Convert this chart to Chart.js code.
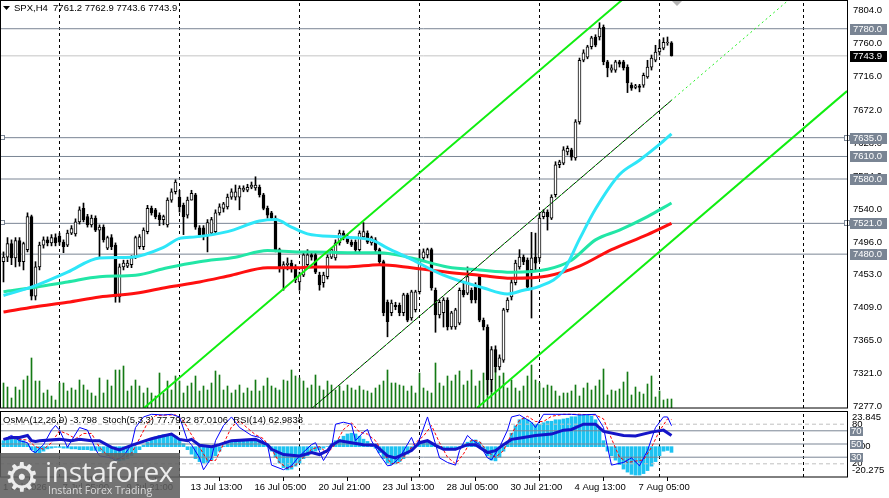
<!DOCTYPE html>
<html>
<head>
<meta charset="utf-8">
<script src="https://cdn.jsdelivr.net/npm/chart.js@4.4.1/dist/chart.umd.min.js"></script>
<style>
  html, body { margin: 0; padding: 0; background: #fff; overflow: hidden; }
  #wrap { position: relative; width: 889px; height: 498px; }
  #mainBox { position: absolute; left: 0; top: 0; width: 889px; height: 410px; }
  #oscBox { position: absolute; left: 0; top: 410px; width: 889px; height: 88px; }
  #logo { position: absolute; left: 0; top: 453px; width: 180px; height: 45px;
          background: rgba(96, 96, 96, 0.88); overflow: hidden; }
  #logo span { position: absolute; white-space: nowrap; line-height: 1; color: #ececec; }
  #logo .gear { left: 4px; top: 1px; font: 40px "DejaVu Sans"; }
  #logo .name { left: 45px; top: -1px; font: 400 28px "Open Sans"; letter-spacing: -0.3px; }
  #logo .tag { left: 48px; top: 30px; font: 10.5px "Open Sans"; color: #dcdcdc; }
</style>
</head>
<body>
<div id="wrap">
  <div id="mainBox"><canvas id="mainChart" width="889" height="410"></canvas></div>
  <div id="oscBox"><canvas id="oscChart" width="889" height="88"></canvas></div>
  <div id="logo"><span class="gear">⚙</span><span class="name">instaforex</span><span class="tag">Instant Forex Trading</span></div>
</div>
<script>
// SPX H4 bars, index 0 = first bar on screen
const opens = [
  7470,7476,7494,7475,7498,7470,7486,7530,7424,7463,
  7492,7499,7495,7502,7504,7496,7492,7508,7507,7523,
  7541,7530,7519,7528,7512,7516,7488,7502,7492,7423,
  7463,7464,7466,7476,7490,7490,7510,7541,7539,7532,
  7526,7519,7552,7563,7556,7545,7532,7552,7559,7515,
  7515,7506,7508,7510,7535,7541,7543,7556,7556,7556,
  7565,7565,7569,7568,7569,7559,7541,7535,7528,7486,
  7462,7466,7468,7463,7443,7452,7466,7479,7479,7452,
  7442,7450,7476,7475,7495,7508,7503,7496,7496,7486,
  7503,7508,7495,7499,7486,7470,7416,7402,7412,7412,
  7402,7426,7395,7406,7430,7475,7479,7486,7432,7399,
  7402,7419,7383,7383,7388,7432,7428,7432,7436,7450,
  7392,7383,7313,7353,7330,7339,7406,7423,7442,7463,
  7476,7472,7459,7476,7475,7530,7536,7528,7559,7599,
  7601,7616,7619,7608,7656,7738,7742,7756,7769,7769,
  7782,7736,7725,7725,7736,7736,7729,7705,7702,7704,
  7705,7716,7729,7738,7749,7754,7761,7761.2
];
const highs = [
  7483,7502,7499,7502,7502,7496,7535,7532,7470,7496,
  7503,7503,7506,7507,7508,7499,7512,7518,7527,7543,
  7548,7533,7532,7531,7519,7519,7504,7506,7495,7467,
  7472,7472,7478,7504,7506,7515,7545,7544,7541,7535,
  7532,7555,7567,7579,7565,7548,7556,7565,7561,7518,
  7518,7526,7529,7539,7547,7549,7560,7567,7572,7571,
  7571,7573,7576,7583,7572,7561,7544,7537,7531,7488,
  7470,7475,7472,7466,7456,7483,7486,7482,7482,7456,
  7456,7479,7488,7499,7512,7511,7506,7499,7499,7511,
  7522,7511,7504,7502,7488,7472,7419,7419,7416,7415,
  7428,7428,7432,7432,7486,7487,7488,7488,7435,7419,
  7422,7422,7404,7408,7435,7442,7463,7435,7442,7452,
  7395,7386,7357,7358,7346,7408,7422,7446,7472,7486,
  7479,7475,7509,7508,7535,7539,7539,7559,7603,7605,
  7623,7624,7621,7659,7741,7752,7758,7770,7772,7788,
  7785,7738,7732,7738,7738,7738,7732,7708,7706,7706,
  7721,7738,7745,7758,7765,7768,7769,7762.9
];
const lows = [
  7443,7470,7466,7463,7464,7459,7483,7419,7419,7459,
  7488,7491,7491,7491,7492,7482,7490,7506,7504,7520,
  7523,7516,7516,7510,7476,7496,7486,7486,7416,7416,
  7459,7462,7462,7474,7487,7486,7507,7532,7527,7518,
  7519,7516,7549,7560,7536,7506,7528,7552,7513,7503,
  7499,7483,7506,7507,7532,7536,7540,7553,7552,7539,
  7563,7563,7567,7565,7556,7539,7528,7526,7483,7456,
  7432,7459,7456,7442,7432,7450,7463,7472,7454,7432,
  7436,7447,7474,7472,7492,7499,7494,7490,7483,7483,
  7500,7494,7492,7483,7467,7398,7370,7398,7406,7398,
  7398,7390,7392,7403,7427,7472,7475,7432,7376,7395,
  7383,7379,7380,7380,7386,7423,7426,7415,7415,7390,
  7379,7293,7297,7323,7326,7336,7403,7419,7439,7460,
  7466,7432,7395,7459,7470,7527,7512,7526,7556,7595,
  7599,7612,7605,7605,7653,7736,7740,7753,7756,7765,
  7732,7716,7722,7722,7729,7725,7695,7698,7700,7696,
  7702,7714,7725,7736,7745,7752,7758,7743.6
];
const closes = [
  7476,7494,7475,7498,7470,7494,7530,7424,7463,7492,
  7499,7495,7502,7495,7496,7490,7508,7514,7523,7539,
  7526,7519,7528,7512,7516,7499,7502,7490,7423,7463,
  7468,7468,7475,7502,7503,7512,7541,7535,7530,7526,
  7530,7552,7563,7576,7543,7530,7552,7561,7516,7506,
  7504,7522,7526,7535,7543,7547,7556,7563,7563,7568,
  7568,7569,7572,7572,7559,7541,7532,7528,7486,7462,
  7466,7468,7462,7446,7452,7479,7479,7476,7456,7439,
  7452,7476,7486,7495,7508,7502,7496,7492,7486,7508,
  7510,7496,7502,7486,7470,7402,7390,7415,7410,7402,
  7426,7392,7430,7430,7472,7483,7486,7435,7399,7416,
  7419,7383,7402,7406,7432,7426,7450,7419,7419,7392,
  7383,7313,7353,7330,7342,7406,7419,7442,7468,7476,
  7470,7436,7475,7468,7528,7536,7530,7556,7599,7603,
  7619,7621,7609,7656,7738,7748,7756,7768,7758,7781,
  7736,7728,7728,7736,7733,7728,7708,7701,7704,7702,
  7718,7729,7741,7749,7754,7762,7761,7743.9
];
// tick volume, drawn on its own hidden scale at the foot of the price panel
const volumes = [
  25,21,10,21,18,28,32,50,27,27,15,18,12,8,25,25,17,20,18,28,
  23,18,15,12,30,15,28,22,38,38,42,17,22,28,22,15,20,15,12,35,
  15,27,18,32,27,15,22,25,32,17,22,18,25,37,33,18,22,15,18,23,
  15,20,17,28,17,22,30,22,20,18,
  28,27,38,32,30,27,20,23,33,22,18,27,23,18,22,17,23,20,18,22,
  18,17,15,20,23,27,38,25,25,23,22,17,22,15,35,20,17,15,45,25,
  22,32,27,33,37,23,27,38,22,27,35,45,45,40,32,35,20,28,20,17,
  22,32,43,28,25,20,23,22,17,12,15,15,17,23,12,
  20,25,18,22,28,
  39,13,18,17,19,26,36,13,21,16,14,24,32,11,17,8,9,9
];

// moving averages at sample bars
const fastMaBars = [0,8,16,24,32,40,44,48,56,64,68,72,76,84,92,96,102,110,120,126,130,134,140,144,148,154,159,164,167];
const fastMaVals = [7425,7438,7456,7475,7476,7489,7501,7503,7510,7524,7526,7516,7507,7503,7499,7488,7473,7452,7435,7427,7432,7437,7458,7500,7540,7586,7605,7626,7640];
const midMaBars = [0,8,16,24,33,41,49,58,66,74,78,86,94,102,111,119,127,136,142,148,154,161,167];
const midMaVals = [7430,7436,7443,7450,7452,7462,7470,7476,7485,7483,7483,7482,7482,7475,7463,7459,7456,7460,7472,7499,7512,7530,7548];
const slowMaBars = [0,8,16,24,33,41,49,57,66,74,78,86,94,102,111,119,127,136,144,152,161,167];
const slowMaVals = [7403,7410,7416,7423,7428,7436,7443,7452,7462,7462,7463,7463,7466,7462,7456,7452,7448,7451,7464,7486,7506,7521];

// drawn channel (two ends of each line)
const chanUpBars = [35.125, 154.625];
const chanUpVals = [7275.3, 7818.2];
const chanLowBars = [118.375, 210.875];
const chanLowVals = [7275.3, 7697];
const chanMidBars = [76.625, 167.125];
const chanMidVals = [7272.6, 7685.3];
const chanMidExtBars = [76.625, 195.875];
const chanMidExtVals = [7272.6, 7816.4];

const levels = [7780, 7635, 7610, 7580, 7521, 7480];
const markedLevels = [7635, 7521];
const priceTicks = [7804,7760,7716,7672,7628,7584,7540,7496,7453,7409,7365,7321,7277];
const sepBars = [14, 44, 74, 104, 134, 164, 200];

// oscillators
const osma = [
  4,5,5.5,6,5,4,2,
  -2,-4,-4,-3,
  -1.5,-1,-0.5,-0.5,-1,-1,-1.5,-1.5,-2,-2,-2,-2.5,-2.5,-3,
  -4,-6,-8,-9,-9.5,-9,-8,-6,-4,-2,
  1,3,5,6.5,7.5,8,8,7.5,7,5,2,
  -2,-5,-8,-10,-11,-10.5,-9,-6,-3,
  0.5,2,3,3.5,4,4,4,4.5,4.5,4,3,1,
  -3,-7,-11,-14,-15.5,-15,-13,-11,-8,
  -6,-4,-3,-2,-1,0,2,
  4,5,7,8.5,9,8.5,7,5,3.5,2,
  -1,-4,-8,-11,-12,-11.5,-10,-8,-5,-2,
  0.5,2,3,3,2,0.5,
  -1,-1.5,-2,-1.5,-1,0,1.5,3,
  4,4.5,3,
  -2,-6,-9,-9.5,-7,-3,
  3,9,14,18,19,18,16,15,
  15,16,17,17,18,18,18.5,19,20,20,21,21,21,20.5,18,12,4,
  -3,-6,-9,-12,-15,-17,-18.5,-19,-19,-18,-16,-13,-10,-6,-3,-2.5,-3.798
];
const osmaRange = [-20.275, 23.845];
const stochBars = [0,2,4,6,7,8,10,12,13,14,16,17,19,21,23,24,27,28,30,32,33,35,37,40,42,44,46,47,49,50,52,53,55,57,59,62,64,66,67,70,72,74,77,78,80,82,83,85,87,88,90,91,92,94,96,97,99,102,103,104,106,107,109,111,113,114,116,117,119,121,122,124,126,127,129,132,133,135,138,142,144,148,150,151,152,155,157,159,161,163,165,166,167];
const stochVals = [57,63,55,52,40,37,49,71,78,71,45,55,75,71,42,32,29,25,32,49,75,91,95,94,95,91,55,49,29,11,29,55,78,91,75,63,60,48,18,11,17,32,49,52,25,45,80,83,80,55,68,72,55,34,17,18,29,60,45,57,91,71,29,22,18,40,63,57,49,29,26,45,71,91,94,83,75,95,95,95,94,95,75,45,18,22,29,17,40,75,91,91,77.7922];
const signalBars = [0,3,6,8,10,12,14,16,18,20,22,24,26,28,30,32,34,36,38,41,43,45,47,49,51,53,55,57,59,61,63,65,67,69,71,73,75,77,79,81,83,85,87,89,91,93,95,97,99,101,103,105,107,109,111,113,115,117,119,121,123,125,127,129,131,133,135,137,140,144,148,150,152,154,156,158,160,162,164,166,167];
const signalVals = [58,58,56,46,42,52,70,65,58,66,66,45,33,28,28,36,58,82,93,94,94,85,64,45,25,25,50,76,85,74,64,58,42,22,13,18,30,42,46,36,50,72,82,68,65,55,36,20,22,38,52,62,78,52,30,20,35,56,54,38,30,40,65,86,92,84,84,92,95,95,94,88,58,30,22,24,26,45,70,88,87.0106];
const rsiBars = [0,2,4,6,7,8,9,14,17,19,22,24,27,29,32,34,37,39,42,44,46,47,49,52,54,57,63,66,67,70,74,77,79,81,82,84,87,90,93,96,98,102,104,106,108,110,113,116,118,121,123,125,127,130,133,137,140,142,145,148,150,155,158,162,165,167];
const rsiVals = [57,60,60,63,55,54,55,57,55,57,55,55,45,41,48,52,58,61,65,57,55,57,48,46,49,55,57,49,42,34,32,37,34,40,48,55,52,49,48,32,29,40,52,55,48,42,42,49,49,37,40,49,57,60,63,65,71,72,80,80,69,63,62,68,71,62.9838];
const oscSolidLevels = [70, 50, 30];
const oscDashLevels = [80, 20];

const timeTickBars = [-0.875, 14, 30, 46, 62, 78, 94, 110, 126, 142, 158];
const timeLabels = ['1 Jul 2026','7 Jul 05:00','9 Jul 21:00','13 Jul 13:00','16 Jul 05:00','20 Jul 21:00',
                    '23 Jul 13:00','28 Jul 05:00','30 Jul 21:00','4 Aug 13:00','7 Aug 05:00'];

const X_MIN = -0.875, X_MAX = 210.875;   // 4 px per bar
const Y_MIN = 7275.25, Y_MAX = 7818.24;
const FONT = '9.5px "Liberation Sans"';
const LEVEL_GREY = '#7a8594';

const pts = (xs, ys) => xs.map((x, k) => ({ x: x, y: ys[k] }));
const lineSet = (data, color, width, extra) => Object.assign({
  type: 'line', data: data, borderColor: color, borderWidth: width,
  pointRadius: 0, fill: false, tension: 0
}, extra || {});
// keep axes from insetting the plot area for their end labels
const noPad = s => { s.paddingTop = 0; s.paddingBottom = 0; s.paddingLeft = 0; s.paddingRight = 0; };

const barIdx = closes.map((_, i) => i);

// ---------- price panel ----------
const mainSets = [];
mainSets.push(lineSet(pts(chanUpBars, chanUpVals), '#10ee10', 2, { order: 0 }));
mainSets.push(lineSet(pts(chanLowBars, chanLowVals), '#10ee10', 2, { order: 0 }));
mainSets.push(lineSet(pts(chanMidExtBars, chanMidExtVals), '#22ee22', 1, { order: 0, borderDash: [2, 3] }));
mainSets.push(lineSet(pts(chanMidBars, chanMidVals), '#000000', 1, { order: 1 }));
mainSets.push(lineSet(pts(fastMaBars, fastMaVals), '#2ee6f8', 3, { order: 2, tension: 0.4, cubicInterpolationMode: 'monotone' }));
mainSets.push(lineSet(pts(midMaBars, midMaVals), '#22e6a6', 3, { order: 2, tension: 0.4, cubicInterpolationMode: 'monotone' }));
mainSets.push(lineSet(pts(slowMaBars, slowMaVals), '#ff1010', 3, { order: 2, tension: 0.4, cubicInterpolationMode: 'monotone' }));
mainSets.push({
  type: 'bar', order: 3, grouped: false, barThickness: 3, minBarLength: 1,
  data: barIdx.map(i => ({ x: i, y: [opens[i], closes[i]] })),
  backgroundColor: barIdx.map(i => closes[i] >= opens[i] ? '#ffffff' : '#000000'),
  borderColor: '#000000', borderWidth: 1, borderSkipped: false
});
mainSets.push({
  type: 'bar', order: 4, grouped: false, barThickness: 1,
  data: barIdx.map(i => ({ x: i, y: [lows[i], highs[i]] })),
  backgroundColor: '#000000', borderWidth: 0
});
mainSets.push({
  type: 'bar', order: 5, grouped: false, barThickness: 1, yAxisID: 'yv',
  data: barIdx.map(i => ({ x: i, y: volumes[i] })),
  backgroundColor: '#147a14', borderWidth: 0
});
levels.forEach(v => mainSets.push(lineSet([{ x: X_MIN, y: v }, { x: X_MAX, y: v }], LEVEL_GREY, 1, { order: 6 })));
mainSets.push(lineSet([{ x: X_MIN, y: closes[closes.length - 1] }, { x: X_MAX, y: closes[closes.length - 1] }], '#c4c4c4', 1, { order: 6 }));
sepBars.forEach(b => mainSets.push(lineSet([{ x: b, y: Y_MIN }, { x: b, y: Y_MAX }], '#000000', 1, { order: 7, borderDash: [3, 3] })));

const mainDeco = {
  id: 'mainDeco',
  afterDraw(chart) {
    const { ctx, chartArea: a } = chart;
    const ys = chart.scales.y;
    const last = closes.length - 1;
    ctx.save();
    ctx.font = FONT;
    ctx.textBaseline = 'middle';
    // symbol line
    ctx.fillStyle = '#000';
    ctx.beginPath(); ctx.moveTo(3, 6); ctx.lineTo(10, 6); ctx.lineTo(6.5, 10); ctx.closePath(); ctx.fill();
    const title = 'SPX,H4  ' + [opens[last], highs[last], lows[last], closes[last]].map(v => v.toFixed(1)).join(' ');
    ctx.fillText(title, 14, 8.5);
    // shift marker
    ctx.fillStyle = '#b4b4b4';
    ctx.beginPath(); ctx.moveTo(671, 0); ctx.lineTo(683, 0); ctx.lineTo(677, 6); ctx.closePath(); ctx.fill();
    // level tags on the price scale
    const tag = (v, txt, fill) => {
      const y = ys.getPixelForValue(v);
      ctx.fillStyle = fill;
      ctx.fillRect(850, Math.round(y) - 5, 37, 11);
      ctx.fillStyle = '#fff';
      ctx.fillText(txt, 853, Math.round(y) + 0.5);
    };
    levels.forEach(v => tag(v, v.toFixed(1), LEVEL_GREY));
    tag(closes[last], closes[last].toFixed(1), '#000');
    // small anchor squares
    ctx.strokeStyle = LEVEL_GREY; ctx.lineWidth = 1;
    markedLevels.forEach(v => {
      const y = Math.round(ys.getPixelForValue(v));
      ctx.fillStyle = '#fff';
      ctx.fillRect(0, y - 2, 4, 4); ctx.strokeRect(0.5, y - 2.5, 4, 4);
      ctx.fillRect(844, y - 2, 5, 5); ctx.strokeRect(844.5, y - 2.5, 5, 5);
    });
    // frame
    ctx.strokeStyle = '#000';
    ctx.strokeRect(a.left + 0.5, a.top + 0.5, a.right - a.left, a.bottom - a.top - 0.5);
    ctx.restore();
  }
};

new Chart(document.getElementById('mainChart'), {
  type: 'bar',
  data: { datasets: mainSets },
  options: {
    responsive: false, animation: false, events: [], devicePixelRatio: 1,
    layout: { padding: { left: 0, right: 0, top: 0, bottom: 2 } },
    plugins: { legend: { display: false }, tooltip: { enabled: false } },
    scales: {
      x: { type: 'linear', min: X_MIN, max: X_MAX, offset: false, display: false },
      y: {
        position: 'right', min: Y_MIN, max: Y_MAX,
        afterBuildTicks: s => { s.ticks = priceTicks.map(v => ({ value: v })); },
        afterFit: s => { s.width = 42; noPad(s); },
        grid: { display: false, drawTicks: false },
        border: { display: false },
        ticks: { autoSkip: false, padding: 6, color: '#000', font: { family: 'Liberation Sans', size: 9.5 },
                 callback: v => Number(v).toFixed(1) }
      },
      yv: { display: false, min: 0, max: 408 }
    }
  },
  plugins: [mainDeco]
});

// ---------- oscillator panel ----------
const oscSets = [];
oscSets.push(lineSet(pts(rsiBars, rsiVals), '#1414c8', 3, { order: 0 }));
oscSets.push(lineSet(pts(stochBars, stochVals), '#0000ff', 1, { order: 1 }));
oscSets.push(lineSet(pts(signalBars, signalVals), '#ff0000', 1, { order: 2, borderDash: [3, 2] }));
oscSolidLevels.forEach(v => oscSets.push(lineSet([{ x: X_MIN, y: v }, { x: X_MAX, y: v }], LEVEL_GREY, 1, { order: 3 })));
oscDashLevels.forEach(v => oscSets.push(lineSet([{ x: X_MIN, y: v }, { x: X_MAX, y: v }], '#c0c0c0', 1, { order: 3, borderDash: [4, 3] })));
oscSets.push({
  type: 'bar', order: 4, grouped: false, barThickness: 3, yAxisID: 'yo',
  data: barIdx.map(i => ({ x: i, y: osma[i] })),
  backgroundColor: '#1ec3f2', borderWidth: 0
});
sepBars.forEach(b => oscSets.push(lineSet([{ x: b, y: 0 }, { x: b, y: 100 }], '#000000', 1, { order: 5, borderDash: [3, 3] })));

const oscDeco = {
  id: 'oscDeco',
  afterDraw(chart) {
    const { ctx, chartArea: a } = chart;
    const ys = chart.scales.y, yo = chart.scales.yo;
    ctx.save();
    ctx.font = FONT;
    ctx.textBaseline = 'middle';
    ctx.fillStyle = '#000';
    const head = 'OsMA(12,26,9) ' + osma[osma.length - 1].toFixed(3) +
      '  Stoch(5,3,3) ' + stochVals[stochVals.length - 1].toFixed(4) + ' ' + signalVals[signalVals.length - 1].toFixed(4) +
      '  RSI(14) ' + rsiVals[rsiVals.length - 1].toFixed(4);
    ctx.fillText(head, 3, a.top + 9);
    ctx.fillText(osmaRange[1].toFixed(3), 852, a.top + 6);
    ctx.fillText(osmaRange[0].toFixed(3), 852, a.bottom - 7);
    oscDashLevels.forEach(v => ctx.fillText(String(v), 852, ys.getPixelForValue(v)));
    ctx.fillText('0.00', 852, yo.getPixelForValue(0));
    oscSolidLevels.forEach(v => {
      const y = Math.round(ys.getPixelForValue(v));
      ctx.fillStyle = LEVEL_GREY;
      ctx.fillRect(850, y - 4, 13, 9);
      ctx.fillStyle = '#fff';
      ctx.fillText(String(v), 851, y + 0.5);
    });
    ctx.strokeStyle = '#000';
    ctx.strokeRect(a.left + 0.5, a.top + 0.5, a.right - a.left, a.bottom - a.top - 0.5);
    ctx.restore();
  }
};

new Chart(document.getElementById('oscChart'), {
  type: 'bar',
  data: { datasets: oscSets },
  options: {
    responsive: false, animation: false, events: [], devicePixelRatio: 1,
    layout: { padding: { left: 0, right: 0, top: 1, bottom: 0 } },
    plugins: { legend: { display: false }, tooltip: { enabled: false } },
    scales: {
      x: {
        type: 'linear', min: X_MIN, max: X_MAX, offset: false,
        afterBuildTicks: s => { s.ticks = timeTickBars.map(v => ({ value: v })); },
        afterFit: s => { s.height = 21; noPad(s); },
        grid: { display: true, drawOnChartArea: false, drawTicks: true, tickLength: 4, color: '#000' },
        border: { display: false },
        ticks: { autoSkip: false, maxRotation: 0, minRotation: 0, align: 'start', labelOffset: 3, padding: 1,
                 color: '#000', font: { family: 'Liberation Sans', size: 9.5 },
                 callback: (v, i) => timeLabels[i] }
      },
      y: {
        position: 'right', min: 0, max: 100,
        afterFit: s => { s.width = 42; noPad(s); },
        grid: { display: false, drawTicks: false }, border: { display: false },
        ticks: { display: false }
      },
      yo: { display: false, min: osmaRange[0], max: osmaRange[1] }
    }
  },
  plugins: [oscDeco]
});
</script>
</body>
</html>
